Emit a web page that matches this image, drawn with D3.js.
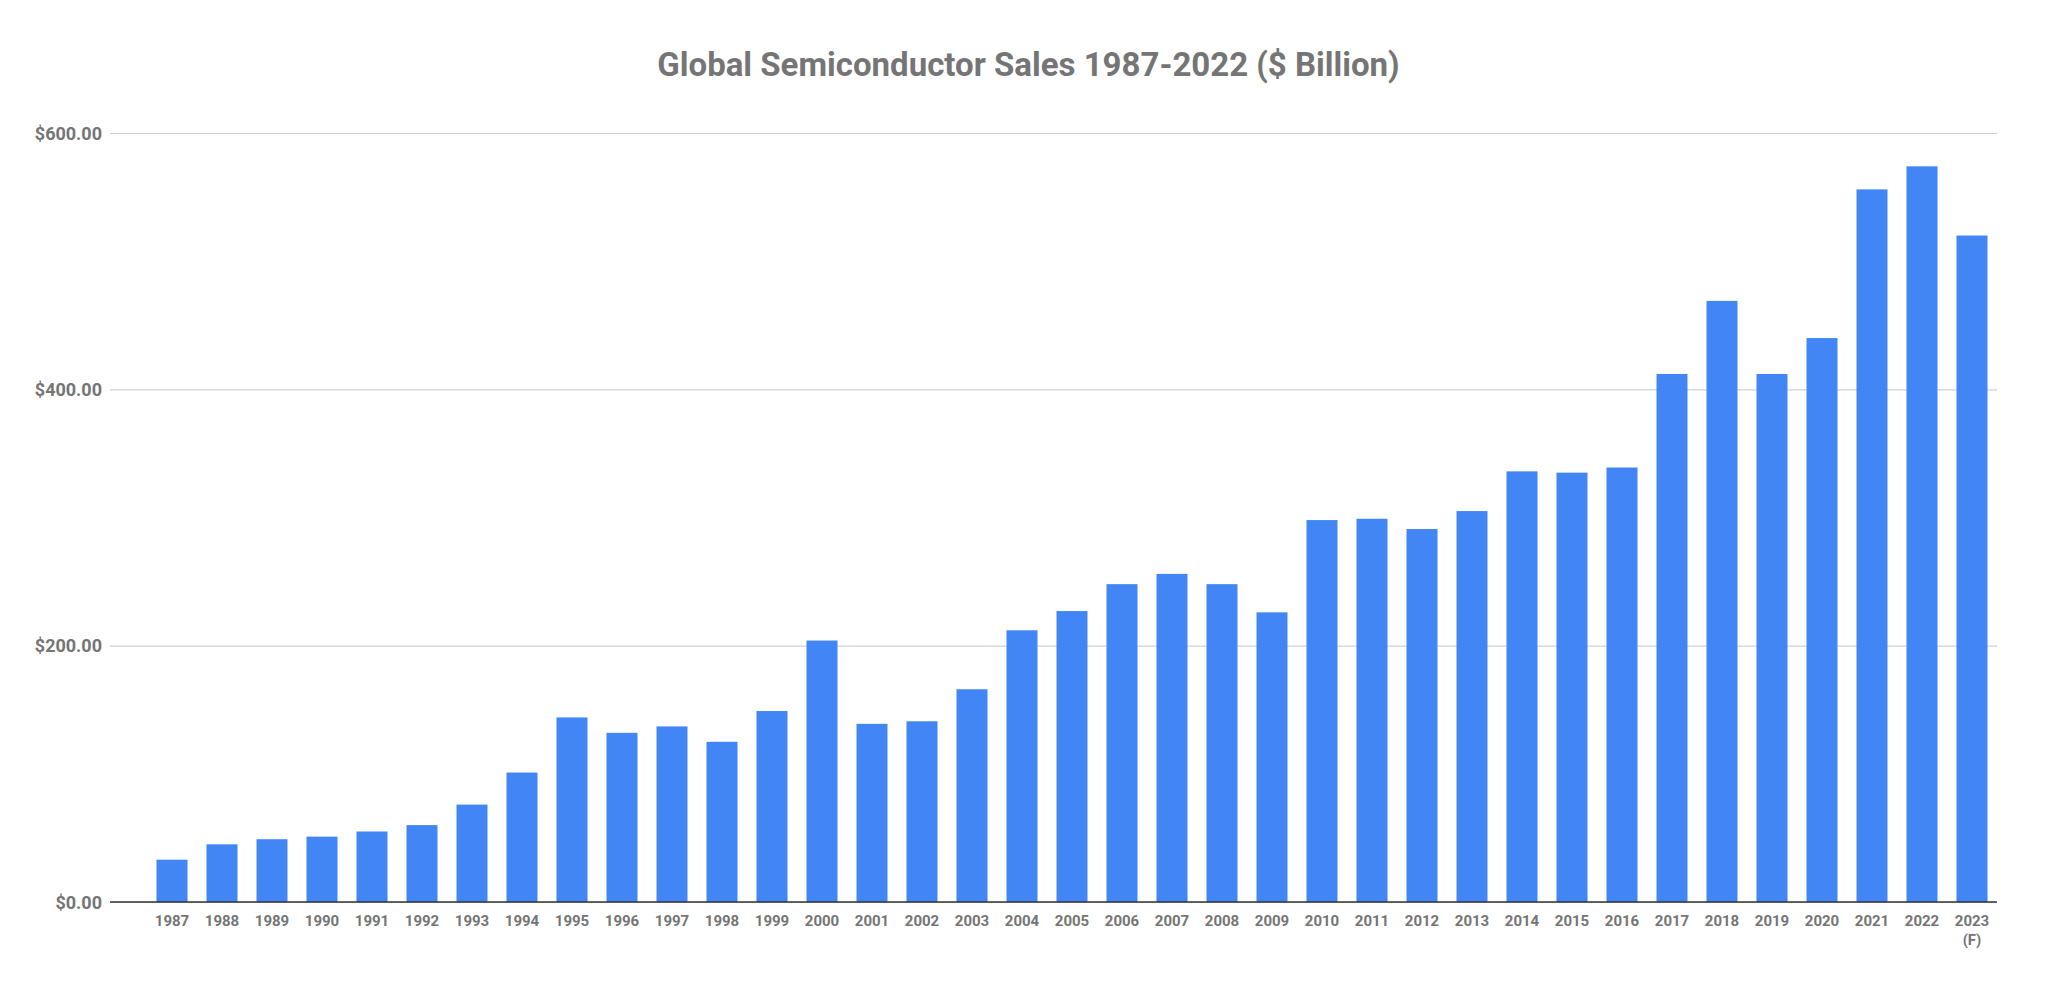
<!DOCTYPE html>
<html>
<head>
<meta charset="utf-8">
<script src="https://cdn.jsdelivr.net/npm/d3@7"></script>
<style>
  body { margin: 0; background: #fff; }
  text { font-family: Roboto, sans-serif; font-weight: bold; fill: #757575; }
</style>
</head>
<body>
<div id="chart"></div>
<script>
// Chart data
const years = ['1987','1988','1989','1990','1991','1992','1993','1994','1995','1996','1997','1998','1999','2000','2001','2002','2003','2004','2005','2006','2007','2008','2009','2010','2011','2012','2013','2014','2015','2016','2017','2018','2019','2020','2021','2022','2023'];
const sales = [33,45,49,51,55,60,76,101,144,132,137,125,149,204,139,141,166,212,227,248,256,248,226,298,299,291,305,336,335,339,412,469,412,440,556,574,520];
const yTicks = [0, 200, 400, 600];

const width = 2047, height = 997;
const margin = { top: 133, right: 50, bottom: 95, left: 147 };

const svg = d3.select('#chart').append('svg')
    .attr('width', width)
    .attr('height', height);

const xScale = d3.scaleBand()
    .domain(years)
    .range([margin.left, width - margin.right])
    .paddingInner(0.38)
    .paddingOuter(0.19);

const yScale = d3.scaleLinear()
    .domain([0, 600])
    .range([height - margin.bottom, margin.top]);

// Title
svg.append('text')
    .attr('x', width / 2 + 5)
    .attr('y', 76)
    .attr('text-anchor', 'middle')
    .style('font-size', '33px')
    .text('Global Semiconductor Sales 1987-2022 ($ Billion)');

// Gridlines + y labels
const yAxis = svg.append('g')
    .attr('transform', `translate(${margin.left - 37}, 0)`)
    .call(d3.axisLeft(yScale).tickValues(yTicks).tickSize(-(width - margin.right - margin.left + 37)).tickFormat(d => '$' + d3.format(',.2f')(d)));
yAxis.select('.domain').remove();
yAxis.selectAll('line').attr('stroke', '#d0d0d0').attr('stroke-width', 1.2);
yAxis.selectAll('text').style('font-size', '18px').attr('x', -8).attr('dy', '0.35em');

// Bars
svg.append('g').selectAll('rect')
    .data(sales)
    .join('rect')
    .attr('x', (d, i) => xScale(years[i]))
    .attr('y', d => yScale(d))
    .attr('width', xScale.bandwidth())
    .attr('height', d => yScale(0) - yScale(d))
    .attr('fill', '#4285f4');

// Baseline
svg.append('line')
    .attr('x1', margin.left - 37)
    .attr('x2', width - margin.right)
    .attr('y1', yScale(0))
    .attr('y2', yScale(0))
    .attr('stroke', '#333')
    .attr('stroke-width', 1.5);

// X labels
const xLabels = svg.append('g').selectAll('text')
    .data(years)
    .join('text')
    .attr('x', d => xScale(d) + xScale.bandwidth() / 2)
    .attr('y', yScale(0) + 24)
    .attr('text-anchor', 'middle')
    .style('font-size', '15px')
    .text(d => d);

svg.append('text')
    .attr('x', xScale('2023') + xScale.bandwidth() / 2)
    .attr('y', yScale(0) + 43)
    .attr('text-anchor', 'middle')
    .style('font-size', '15px')
    .text('(F)');
</script>
</body>
</html>
